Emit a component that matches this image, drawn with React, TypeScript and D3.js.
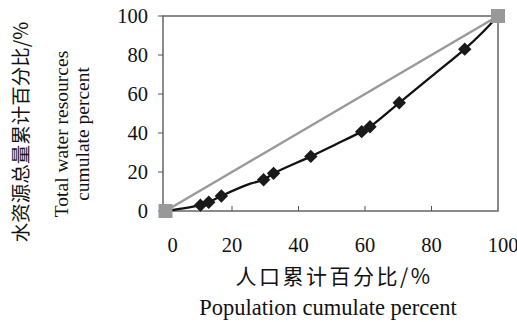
import React from "react";
import * as d3 from "d3";

const popPct = [0, 10.5, 13, 16.8, 29.5, 32.5, 43.7, 59, 61.5, 70.3, 90, 100];
const waterPct = [0, 3, 4.5, 7.7, 16, 19.3, 28, 40.7, 43.2, 55.5, 83, 100];
const markerIdx = [1, 2, 3, 4, 5, 6, 7, 8, 9, 10];
// extra unmarked points the drawn curve passes through
const curveX = [0, 10.5, 13, 16.8, 25.5, 29.5, 32.5, 43.7, 51, 59, 61.5, 70.3, 80, 90, 95, 100];
const curveY = [0, 3, 4.5, 7.7, 14, 16, 19.3, 28, 34, 40.7, 43.2, 55.5, 69, 83, 91, 100];
const equalX = [0, 100];
const equalY = [0, 100];
const xTicks = [0, 20, 40, 60, 80, 100];
const yTicks = [0, 20, 40, 60, 80, 100];

export default function App() {
  const W = 517, H = 322;
  const x = d3.scaleLinear().domain([0, 100]).range([165.5, 498]);
  const y = d3.scaleLinear().domain([0, 100]).range([211, 16]);
  const line = d3.line<[number, number]>().x(d => x(d[0])).y(d => y(d[1])).curve(d3.curveCatmullRom.alpha(0.5));
  const curvePts: [number, number][] = curveX.map((v, i) => [v, curveY[i]]);
  const eqPts: [number, number][] = equalX.map((v, i) => [v, equalY[i]]);
  const serif = "'Liberation Serif', 'Times New Roman', serif";
  const cjk = "'Noto Sans CJK SC', sans-serif";
  const ms = 7.5;
  return (
    <svg width={W} height={H} style={{ position: "absolute", left: 0, top: 0, background: "#fff" }}>
      <rect x={163} y={y(100)} width={x(100) - 163} height={y(0) - y(100)} fill="none" stroke="#6e6e6e" strokeWidth={1.6} />
      {yTicks.map(t => (
        <g key={"y" + t}>
          <line x1={158} x2={163} y1={y(t)} y2={y(t)} stroke="#555" strokeWidth={1} />
          <text x={148} y={y(t)} dy="0.35em" textAnchor="end" fontFamily={serif} fontSize={20.5} fill="#111">{t}</text>
        </g>
      ))}
      {xTicks.map(t => (
        <g key={"x" + t}>
          {t > 0 && t < 100 && <line x1={x(t)} x2={x(t)} y1={y(0)} y2={y(0) - 5} stroke="#555" strokeWidth={1} />}
          <text x={x(t) + (t === 0 ? 7 : t === 100 ? 5 : 0)} y={245} dy="0.35em" textAnchor="middle" fontFamily={serif} fontSize={20.5} fill="#111">{t}</text>
        </g>
      ))}
      <path d={line(eqPts) || ""} fill="none" stroke="#999" strokeWidth={2.5} />
      <path d={line(curvePts) || ""} fill="none" stroke="#111" strokeWidth={2.3} />
      {markerIdx.map(i => (
        <rect key={"m" + i} x={x(popPct[i]) - ms / 2} y={y(waterPct[i]) - ms / 2} width={ms} height={ms}
          transform={`rotate(45 ${x(popPct[i])} ${y(waterPct[i])})`} fill="#1a1a1a" stroke="#1a1a1a" strokeWidth={2} />
      ))}
      {equalX.map((v, i) => (
        <rect key={"e" + i} x={x(v) - 7} y={y(equalY[i]) - 7} width={14} height={14} fill="#999" />
      ))}
      <text x={334} y={277} dy="0.35em" textAnchor="middle" fontFamily={cjk} fontSize={21} letterSpacing={2.5} fill="#111">人口累计百分比/%</text>
      <text x={328} y={307} dy="0.35em" textAnchor="middle" fontFamily={serif} fontSize={22.5} fill="#111">Population cumulate percent</text>
      <text transform="translate(21,132) rotate(-90)" dy="0.35em" textAnchor="middle" fontFamily={cjk} fontSize={19.5} fill="#111">水资源总量累计百分比/%</text>
      <text transform="translate(61,134) rotate(-90)" dy="0.35em" textAnchor="middle" fontFamily={serif} fontSize={19.5} fill="#111">Total water resources</text>
      <text transform="translate(82,134) rotate(-90)" dy="0.35em" textAnchor="middle" fontFamily={serif} fontSize={19.5} fill="#111">cumulate percent</text>
    </svg>
  );
}
